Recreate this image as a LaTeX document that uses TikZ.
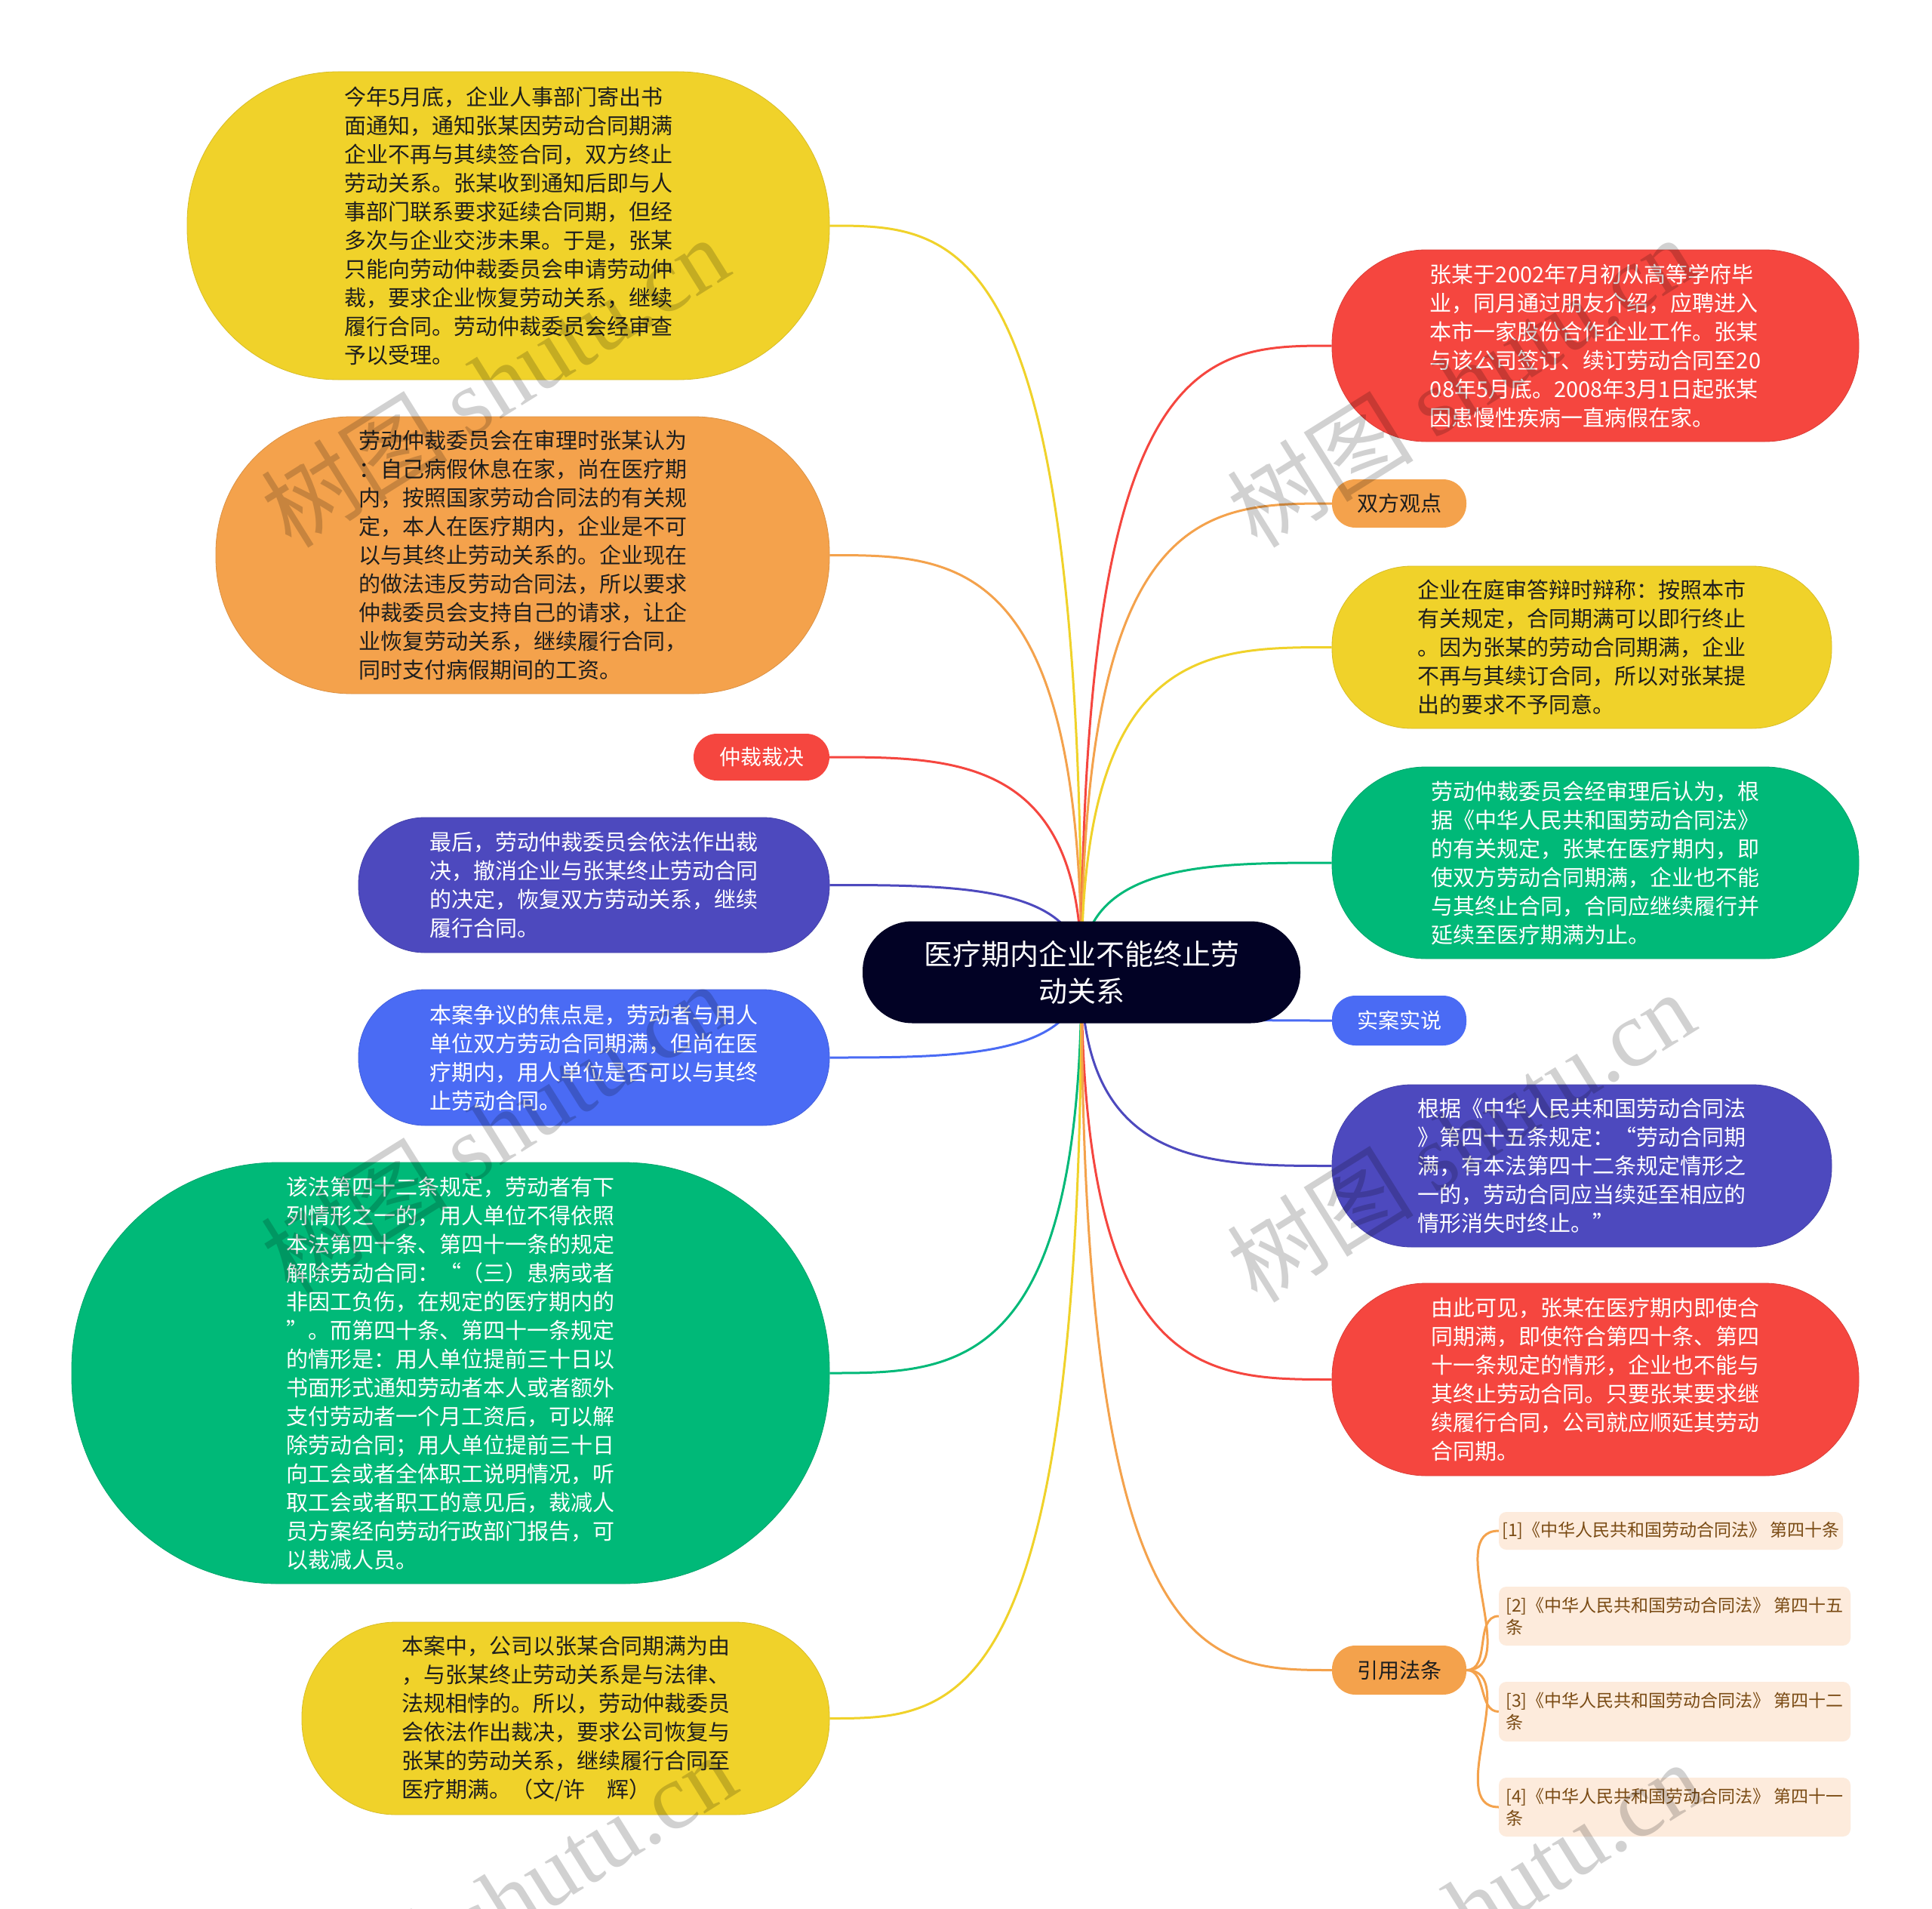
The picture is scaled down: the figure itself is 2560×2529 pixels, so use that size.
\documentclass[tikz,border=0pt]{standalone}
\usepackage{fontspec}
\setmainfont{Noto Sans CJK SC}
\newfontfamily\marklatin{Liberation Serif}
\usetikzlibrary{calc, backgrounds}

\definecolor{cYel}{HTML}{F0D22A}
\definecolor{cOra}{HTML}{F4A24C}
\definecolor{cRed}{HTML}{F5463F}
\definecolor{cPur}{HTML}{4D49BE}
\definecolor{cBlu}{HTML}{4A6BF4}
\definecolor{cGre}{HTML}{00B978}
\definecolor{cRoot}{HTML}{020225}
\definecolor{cRef}{HTML}{FDEBDC}
\definecolor{cRefT}{HTML}{7A4B14}
\definecolor{cInk}{HTML}{1E1E1E}

\tikzset{
  bubble/.style n args={4}{draw=#1!90!black, line width=0.8pt, fill=#1, text=#2,
    minimum width=#3pt, minimum height=#4pt, rounded corners={#4*0.49pt},
    inner sep=0pt, align=left, font=\fontsize{29}{38}\selectfont},
  tag/.style 2 args={fill=#1, text=#2, minimum width=178pt, minimum height=64pt,
    rounded corners=31pt, inner sep=0pt, font=\fontsize{28}{32}\selectfont},
  hub/.style={fill=cRoot, text=white, minimum width=580pt, minimum height=135pt,
    rounded corners=66pt, inner sep=0pt, align=center, font=\fontsize{38}{49}\selectfont},
  cite/.style 2 args={fill=cRef, text=cRefT, minimum width=#1pt, minimum height=#2pt,
    rounded corners=10pt, inner sep=0pt, align=left, font=\fontsize{23}{29}\selectfont},
  link/.style={draw=#1, line width=3pt, to path={.. controls (\tikztostart |- \tikztotarget)
    and ($(\tikztostart |- \tikztotarget)!0.5!(\tikztotarget)$) .. (\tikztotarget)}},
  twig/.style={draw=cOra, line width=3pt, out=0, in=180},
  stamp/.style={text=black, text opacity=0.18, rotate=32, font=\fontsize{124}{124}\selectfont}
}

\begin{document}
\begin{tikzpicture}[x=1pt, y=-1pt]
  \useasboundingbox (0,0) rectangle (2560,2529);

  % root
  \node[hub] (root) at (1433,1288) {医疗期内企业不能终止劳\\动关系};

  % left branches
  \node[bubble={cYel}{cInk}{851}{408}] (yl1) at (673.5,299) {今年5月底，企业人事部门寄出书\\面通知，通知张某因劳动合同期满\\企业不再与其续签合同，双方终止\\劳动关系。张某收到通知后即与人\\事部门联系要求延续合同期，但经\\多次与企业交涉未果。于是，张某\\只能向劳动仲裁委员会申请劳动仲\\裁，要求企业恢复劳动关系，继续\\履行合同。劳动仲裁委员会经审查\\予以受理。};
  \node[bubble={cOra}{cInk}{813}{367}] (or1) at (692.5,735.5) {劳动仲裁委员会在审理时张某认为\\：自己病假休息在家，尚在医疗期\\内，按照国家劳动合同法的有关规\\定，本人在医疗期内，企业是不可\\以与其终止劳动关系的。企业现在\\的做法违反劳动合同法，所以要求\\仲裁委员会支持自己的请求，让企\\业恢复劳动关系，继续履行合同，\\同时支付病假期间的工资。};
  \node[tag={cRed}{white}, minimum width=180pt, minimum height=62pt] (rd1) at (1009,1003) {仲裁裁决};
  \node[bubble={cPur}{white}{624}{179}] (pu1) at (787,1172.5) {最后，劳动仲裁委员会依法作出裁\\决，撤消企业与张某终止劳动合同\\的决定，恢复双方劳动关系，继续\\履行合同。};
  \node[bubble={cBlu}{white}{624}{180}] (bl1) at (787,1401) {本案争议的焦点是，劳动者与用人\\单位双方劳动合同期满，但尚在医\\疗期内，用人单位是否可以与其终\\止劳动合同。};
  \node[bubble={cGre}{white}{1004}{558}] (gr1) at (597,1819) {该法第四十二条规定，劳动者有下\\列情形之一的，用人单位不得依照\\本法第四十条、第四十一条的规定\\解除劳动合同：“（三）患病或者\\非因工负伤，在规定的医疗期内的\\”。而第四十条、第四十一条规定\\的情形是：用人单位提前三十日以\\书面形式通知劳动者本人或者额外\\支付劳动者一个月工资后，可以解\\除劳动合同；用人单位提前三十日\\向工会或者全体职工说明情况，听\\取工会或者职工的意见后，裁减人\\员方案经向劳动行政部门报告，可\\以裁减人员。};
  \node[bubble={cYel}{cInk}{699}{255}] (yl2) at (749.5,2276.5) {本案中，公司以张某合同期满为由\\，与张某终止劳动关系是与法律、\\法规相悖的。所以，劳动仲裁委员\\会依法作出裁决，要求公司恢复与\\张某的劳动关系，继续履行合同至\\医疗期满。（文/许　辉）};

  % right branches
  \node[bubble={cRed}{white}{698}{254}] (rd2) at (2114,458) {张某于2002年7月初从高等学府毕\\业，同月通过朋友介绍，应聘进入\\本市一家股份合作企业工作。张某\\与该公司签订、续订劳动合同至20\\08年5月底。2008年3月1日起张某\\因患慢性疾病一直病假在家。};
  \node[tag={cOra}{cInk}] (or2) at (1854,667) {双方观点};
  \node[bubble={cYel}{cInk}{662}{215}] (yl3) at (2096,857.5) {企业在庭审答辩时辩称：按照本市\\有关规定，合同期满可以即行终止\\。因为张某的劳动合同期满，企业\\不再与其续订合同，所以对张某提\\出的要求不予同意。};
  \node[bubble={cGre}{white}{698}{254}] (gr2) at (2114,1143) {劳动仲裁委员会经审理后认为，根\\据《中华人民共和国劳动合同法》\\的有关规定，张某在医疗期内，即\\使双方劳动合同期满，企业也不能\\与其终止合同，合同应继续履行并\\延续至医疗期满为止。};
  \node[tag={cBlu}{white}, minimum height=66pt] (bl2) at (1854,1352) {实案实说};
  \node[bubble={cPur}{white}{662}{215}] (pu2) at (2096,1544.5) {根据《中华人民共和国劳动合同法\\》第四十五条规定：“劳动合同期\\满，有本法第四十二条规定情形之\\一的，劳动合同应当续延至相应的\\情形消失时终止。”};
  \node[bubble={cRed}{white}{698}{255}] (rd3) at (2114,1827.5) {由此可见，张某在医疗期内即使合\\同期满，即使符合第四十条、第四\\十一条规定的情形，企业也不能与\\其终止劳动合同。只要张某要求继\\续履行合同，公司就应顺延其劳动\\合同期。};
  \node[tag={cOra}{cInk}, minimum height=65pt] (or3) at (1854,2212.5) {引用法条};

  % cited articles
  \foreach \i/\xx/\yy/\w/\h/\txt in {
      1/2214/2028/456/50/{[1]《中华人民共和国劳动合同法》 第四十条},
      2/2219/2141/466/78/{[2]《中华人民共和国劳动合同法》 第四十五\\条},
      3/2219/2267.5/466/79/{[3]《中华人民共和国劳动合同法》 第四十二\\条},
      4/2219/2394/466/78/{[4]《中华人民共和国劳动合同法》 第四十一\\条}} {
    \node[cite={\w}{\h}] (r\i) at (\xx,\yy) {\txt};
  }

  % connectors
  \begin{pgfonlayer}{background}
    \fill[white] (0,0) rectangle (2560,2529);
    \foreach \n/\c in {yl1/cYel, or1/cOra, rd1/cRed, pu1/cPur, bl1/cBlu, gr1/cGre, yl2/cYel}
      \draw[link=\c] (root.center) to (\n.east);
    \foreach \n/\c in {rd2/cRed, or2/cOra, yl3/cYel, gr2/cGre, bl2/cBlu, pu2/cPur, rd3/cRed, or3/cOra}
      \draw[link=\c] (root.center) to (\n.west);
    \foreach \i in {1,...,4}
      \draw[twig] (or3.east) to (r\i.west);
  \end{pgfonlayer}

  % watermark
  \foreach \xx/\yy [count=\k] in {655/505, 1935/505, 655/1494, 1935/1505, 665/2515, 1945/2525}
    \node[stamp] (wm\k) at (\xx,\yy) {树图 {\marklatin shutu.cn}};
\end{tikzpicture}
\end{document}
